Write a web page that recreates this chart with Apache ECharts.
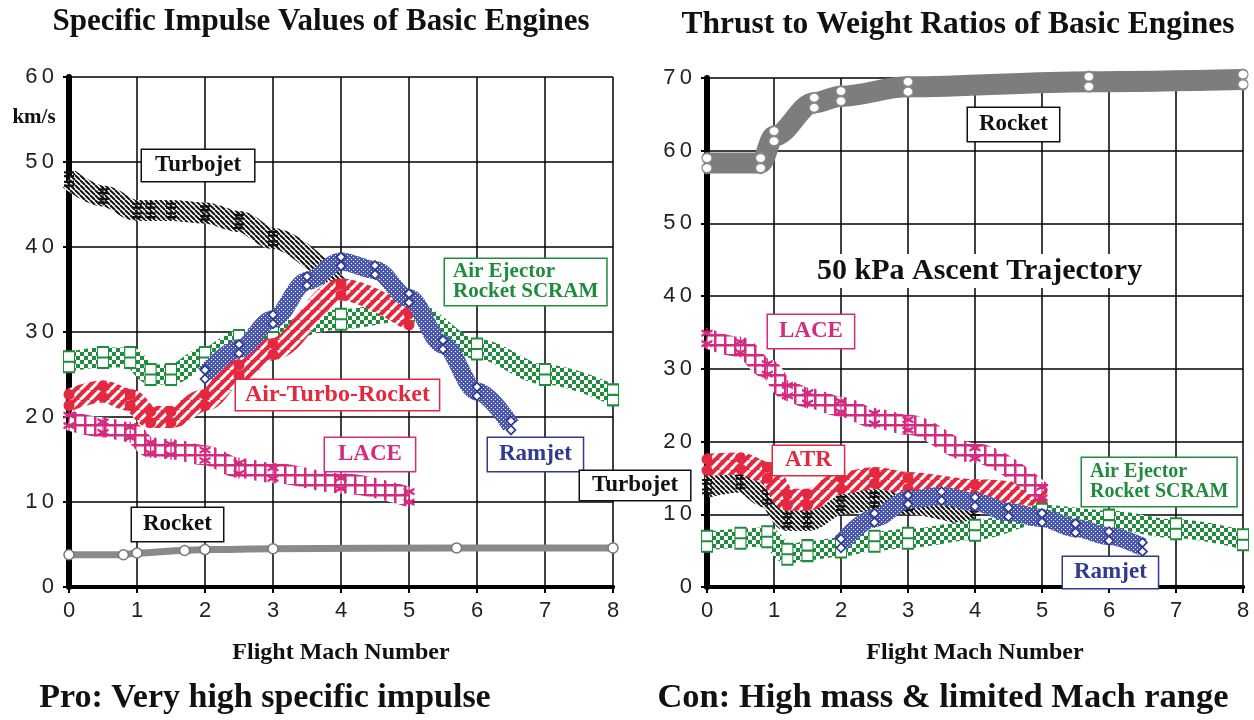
<!DOCTYPE html>
<html><head><meta charset="utf-8">
<script src="https://cdn.jsdelivr.net/npm/echarts@6/dist/echarts.min.js"></script>
<style>html,body{margin:0;padding:0;background:#fff}#c{width:1254px;height:720px}</style>
</head><body><div id="c"></div>
<script>
// ---------- DATA ----------
const machMin = 0, machMax = 8, machStep = 1;
const ispMax = 60, ispStep = 10;      // km/s
const twMax = 70, twStep = 10;        // thrust / weight

// Left: specific impulse (km/s) vs flight Mach number
const ispTurbojetX = [0, 0.5, 1.0, 1.2, 1.5, 2, 2.5, 3, 4];
const ispTurbojetY = [48, 46, 44.3, 44.3, 44.3, 44, 43, 41, 35];
const ispRamjetX = [2, 2.5, 3, 3.5, 4, 4.5, 5, 5.5, 6, 6.5];
const ispRamjetY = [25, 28, 31.5, 36, 38.3, 37.3, 34, 28.5, 23, 19];
const ispAtrX = [0, 0.5, 0.9, 1.2, 1.5, 2, 2.5, 3, 4, 5];
const ispAtrY = [22, 23, 22, 20, 20, 22, 25.5, 28, 35, 31.5];
const ispScramX = [0, 0.5, 0.9, 1.2, 1.5, 2, 2.5, 3, 4, 5, 6, 7, 8];
const ispScramY = [26.5, 27, 27, 25, 25, 27, 29, 30, 31.5, 32.5, 28, 25, 22.6];
const ispLaceX = [0, 0.5, 0.9, 1.2, 1.5, 2, 2.5, 3, 4, 5];
const ispLaceY = [19.6, 18.8, 18.2, 16.4, 16.2, 15.5, 14, 13.4, 12.2, 10.6];
const ispRocketX = [0, 0.8, 1, 1.7, 2, 3, 5.7, 8];
const ispRocketY = [3.8, 3.8, 4, 4.3, 4.4, 4.5, 4.6, 4.6];

// Right: thrust to weight ratio vs flight Mach number
const twRocketX = [0, 0.8, 1, 1.6, 2, 3, 5.7, 8];
const twRocketY = [58.3, 58.3, 62, 66.6, 67.5, 68.8, 69.5, 69.8];
const twLaceX = [0, 0.5, 0.9, 1.2, 1.5, 2, 2.5, 3, 4, 5];
const twLaceY = [34.2, 33, 30, 27, 26, 24.8, 23.2, 22.3, 18.4, 13];
const twAtrX = [0, 0.5, 0.9, 1.2, 1.5, 2, 2.5, 3, 4, 5];
const twAtrY = [16.8, 17, 15.7, 12, 12, 14.3, 15, 14.3, 13.3, 12.5];
const twTurbojetX = [0, 0.5, 0.9, 1.2, 1.5, 2, 2.5, 3, 4];
const twTurbojetY = [13.8, 14.5, 12.4, 9.2, 9.2, 11.5, 12, 11.5, 9.5];
const twRamjetX = [2, 2.5, 3, 3.5, 4, 4.5, 5, 5.5, 6, 6.5];
const twRamjetY = [6, 9.5, 12, 12.5, 11.7, 10.3, 9.5, 8.1, 7, 5.5];
const twScramX = [0, 0.5, 0.9, 1.2, 1.5, 2, 2.5, 3, 4, 5, 6, 7, 8];
const twScramY = [6.3, 6.7, 6.9, 4.5, 5, 5.5, 6.3, 6.7, 7.8, 10, 9.2, 8, 6.5];

// ---------- STYLE ----------
const SERIF = '"Liberation Serif", "Times New Roman", serif';
const SANS = '"Liberation Sans", Arial, sans-serif';
const C = { red: '#e4283f', mag: '#d42a80', blue: '#2f3a90', blueBand: '#4a58b0', green: '#1e8c3c', gray: '#7d7d7d', black: '#111' };

function pat(w, h, draw) {
  const c = document.createElement('canvas'); c.width = w; c.height = h;
  const g = c.getContext('2d'); draw(g, w, h);
  return { image: c, repeat: 'repeat' };
}
const P = {
  hatch: pat(5, 5, (g, w, h) => { g.fillStyle = '#fff'; g.fillRect(0, 0, w, h); g.strokeStyle = '#111'; g.lineWidth = 2;
    g.beginPath(); for (const k of [-5, 0, 5]) { g.moveTo(k, 0); g.lineTo(k + 5, 5); } g.stroke(); }),
  red: pat(10, 10, (g, w, h) => { g.fillStyle = C.red; g.fillRect(0, 0, w, h); g.strokeStyle = '#fff'; g.lineWidth = 3;
    g.beginPath(); for (const k of [-10, 0, 10]) { g.moveTo(k, 10); g.lineTo(k + 10, 0); } g.stroke(); }),
  blue: pat(4, 4, (g, w, h) => { g.fillStyle = C.blueBand; g.fillRect(0, 0, w, h); g.fillStyle = '#fff'; g.fillRect(1, 1, 1, 1); g.fillRect(3, 3, 1, 1); }),
  green: pat(8, 8, (g, w, h) => { g.fillStyle = '#fff'; g.fillRect(0, 0, w, h); g.fillStyle = C.green; g.fillRect(0, 0, 4, 4); g.fillRect(4, 4, 4, 4); }),
  lace: pat(10, 10, (g, w, h) => { g.fillStyle = '#fff'; g.fillRect(0, 0, w, h); g.fillStyle = C.mag; g.fillRect(4, 0, 2.5, 10); g.fillRect(0, 4, 10, 2.5); }),
  gray: C.gray
};
const SYM = {
  circles: 'path://M0,5A5,5,0,1,1,10,5A5,5,0,1,1,0,5ZM0,15A5,5,0,1,1,10,15A5,5,0,1,1,0,15Z',
  diamonds: 'path://M5,0L10,5L5,10L0,5ZM5,10L10,15L5,20L0,15Z',
  squares: 'path://M0,0L10,0L10,10L0,10ZM0,10L10,10L10,20L0,20Z',
  crosses: 'path://M5,0L5,20M1,3L9,3M1,7L9,7M1,13L9,13M1,17L9,17',
  stars: 'path://M5,0L5,10M0.7,2.5L9.3,7.5M0.7,7.5L9.3,2.5M5,10L5,20M0.7,12.5L9.3,17.5M0.7,17.5L9.3,12.5'
};

function band(name, side, xs, ys, lineColor, width, symbol, symbolSize, itemStyle, z) {
  return {
    name, type: 'line', xAxisIndex: side * 2, yAxisIndex: side * 2,
    data: xs.map((x, i) => [x, ys[i]]),
    smooth: 0.35, smoothMonotone: 'x', showAllSymbol: true, clip: false, silent: true,
    symbol, symbolSize, itemStyle,
    lineStyle: { color: lineColor, width, cap: 'butt', join: 'round' },
    emphasis: { disabled: true }, z
  };
}

const series = [
  // left
  band('Rocket', 0, ispRocketX, ispRocketY, '#8a8a8a', 7, 'circle', 10, { color: '#fff', borderColor: '#777', borderWidth: 1.5 }, 2),
  band('Turbojet', 0, ispTurbojetX, ispTurbojetY, P.hatch, 21, SYM.crosses, [10, 19], { color: 'transparent', borderColor: '#111', borderWidth: 1.5 }, 3),
  band('Air Ejector Rocket SCRAM', 0, ispScramX, ispScramY, P.green, 20, SYM.squares, [11, 21], { color: '#fff', borderColor: C.green, borderWidth: 1.5 }, 4),
  band('Air-Turbo-Rocket', 0, ispAtrX, ispAtrY, P.red, 22, SYM.circles, [11, 22], { color: C.red, borderColor: C.red, borderWidth: 0 }, 5),
  band('LACE', 0, ispLaceX, ispLaceY, P.lace, 20, SYM.stars, [11, 21], { color: 'transparent', borderColor: C.mag, borderWidth: 1.8 }, 6),
  band('Ramjet', 0, ispRamjetX, ispRamjetY, P.blue, 18, SYM.diamonds, [9, 18], { color: '#fff', borderColor: C.blue, borderWidth: 1.5 }, 7),
  // right
  band('Rocket', 1, twRocketX, twRocketY, P.gray, 21, SYM.circles, [10, 20], { color: '#fff', borderColor: '#888', borderWidth: 1.5 }, 2),
  band('Turbojet', 1, twTurbojetX, twTurbojetY, P.hatch, 22, SYM.crosses, [10, 19], { color: 'transparent', borderColor: '#111', borderWidth: 1.5 }, 3),
  band('ATR', 1, twAtrX, twAtrY, P.red, 22, SYM.circles, [11, 22], { color: C.red, borderColor: C.red, borderWidth: 0 }, 4),
  band('Air Ejector Rocket SCRAM', 1, twScramX, twScramY, P.green, 19, SYM.squares, [11, 21], { color: '#fff', borderColor: C.green, borderWidth: 1.5 }, 5),
  band('Ramjet', 1, twRamjetX, twRamjetY, P.blue, 18, SYM.diamonds, [9, 18], { color: '#fff', borderColor: C.blue, borderWidth: 1.5 }, 6),
  band('LACE', 1, twLaceX, twLaceY, P.lace, 20, SYM.stars, [11, 21], { color: 'transparent', borderColor: C.mag, borderWidth: 1.8 }, 7)
];

const spaced = v => String(v).split('').join('\u2009');
const labelStyle = { color: '#222', fontFamily: SANS, fontSize: 22 };
function xAxes(gi) {
  return [
    { gridIndex: gi, type: 'value', min: machMin, max: machMax, interval: machStep,
      axisLine: { lineStyle: { color: '#000', width: 4 } },
      axisTick: { show: true, length: 6, lineStyle: { color: '#000', width: 2 } },
      axisLabel: Object.assign({ margin: 13, formatter: spaced }, labelStyle),
      splitLine: { show: true, lineStyle: { color: '#000', width: 1.5 } },
      name: 'Flight Mach Number', nameLocation: 'middle', nameGap: 54,
      nameTextStyle: { fontFamily: SERIF, fontWeight: 'bold', fontSize: 24, color: '#111' } },
    { gridIndex: gi, type: 'value', position: 'top', min: machMin, max: machMax, interval: machStep,
      axisLine: { lineStyle: { color: '#000', width: 4 } }, axisTick: { show: false }, axisLabel: { show: false }, splitLine: { show: false } }
  ];
}
function yAxes(gi, max, step) {
  return [
    { gridIndex: gi, type: 'value', min: 0, max, interval: step,
      axisLine: { show: true, lineStyle: { color: '#000', width: 6 } },
      axisTick: { show: true, length: 6, lineStyle: { color: '#000', width: 2 } },
      axisLabel: Object.assign({ margin: 15, formatter: spaced }, labelStyle),
      splitLine: { show: true, lineStyle: { color: '#000', width: 1.5 } } },
    { gridIndex: gi, type: 'value', position: 'right', min: 0, max, interval: step,
      axisLine: { show: true, lineStyle: { color: '#000', width: 4 } }, axisTick: { show: false }, axisLabel: { show: false }, splitLine: { show: false } }
  ];
}

function txt(text, x, y, size, opts) {
  return { type: 'text', x, y, z: 100, silent: true,
    style: Object.assign({ text, font: 'bold ' + size + 'px ' + SERIF, fill: '#111', align: 'center', verticalAlign: 'middle' }, opts || {}) };
}
function boxed(text, x, y, color, size, pad, lh) {
  return { type: 'text', x, y, z: 100, silent: true,
    style: { text, font: 'bold ' + size + 'px ' + SERIF, fill: color, align: 'left', verticalAlign: 'top',
      backgroundColor: '#fff', borderColor: color, borderWidth: 1.5, padding: pad, lineHeight: lh || size } };
}

const graphics = [
  txt('Specific Impulse Values of Basic Engines', 321, 22, 31),
  txt('Thrust to Weight Ratios of Basic Engines', 958, 25, 31.5),
  txt('Pro: Very high specific impulse', 265, 698, 34),
  txt('Con: High mass & limited Mach range', 943, 698, 34.5),
  txt('km/s', 34, 118, 21),
  boxed('Turbojet', 142, 150, '#111', 23, [4, 13]),
  boxed('Air Ejector\nRocket SCRAM', 445, 259, C.green, 21, [3, 8], 20),
  boxed('Air-Turbo-Rocket', 236, 380, C.red, 24, [3, 9]),
  boxed('LACE', 325, 438, C.mag, 23, [5, 13]),
  boxed('Ramjet', 488, 438, C.blue, 23, [5, 11]),
  boxed('Rocket', 132, 508, '#111', 23, [5, 11]),
  boxed('Turbojet', 580, 471, '#111', 23, [3, 12]),
  boxed('Rocket', 968, 108, '#111', 23, [5, 11]),
  { type: 'text', x: 812, y: 254, z: 100, silent: true,
    style: { text: '50 kPa Ascent Trajectory', font: 'bold 30px ' + SERIF, fill: '#111', align: 'left', verticalAlign: 'top', backgroundColor: '#fff', padding: [2, 5] } },
  boxed('LACE', 768, 315, C.mag, 23, [5, 11]),
  boxed('ATR', 773, 446, C.red, 23, [3, 12]),
  boxed('Air Ejector\nRocket SCRAM', 1082, 458, C.green, 20, [4, 8], 20),
  boxed('Ramjet', 1063, 557, C.blue, 23, [4, 11])
];

const chart = echarts.init(document.getElementById('c'), null, { renderer: 'canvas' });
chart.setOption({
  animation: false,
  backgroundColor: '#fff',
  grid: [
    { left: 69, top: 77, width: 544, height: 510 },
    { left: 707, top: 78, width: 536, height: 509 }
  ],
  xAxis: xAxes(0).concat(xAxes(1)),
  yAxis: yAxes(0, ispMax, ispStep).concat(yAxes(1, twMax, twStep)),
  series,
  graphic: graphics
});
</script></body></html>
